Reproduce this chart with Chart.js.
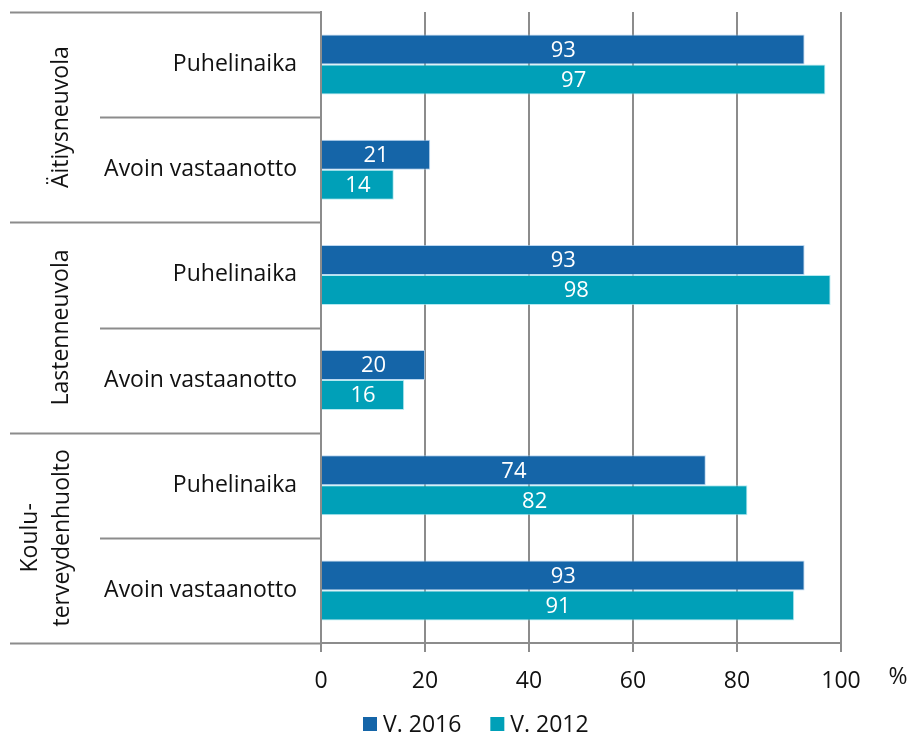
<!DOCTYPE html>
<html>
<head>
<meta charset="utf-8">
<script src="https://cdn.jsdelivr.net/npm/chart.js@4"></script>
<style>
  html, body { margin: 0; padding: 0; background: #fff; }
  #wrap { width: 910px; height: 733px; }
</style>
</head>
<body>
<div id="wrap"><canvas id="c" width="910" height="733"></canvas></div>
<script>
// Rows (service / type) and the three service groups they belong to
const rowLabels = ['Puhelinaika', 'Avoin vastaanotto', 'Puhelinaika', 'Avoin vastaanotto', 'Puhelinaika', 'Avoin vastaanotto'];
const groupLabels = [['Äitiysneuvola'], ['Lastenneuvola'], ['Koulu-', 'terveydenhuolto']];
const rowsPerGroup = 2;

// Share of units (%) offering each form of contact
const values2016 = [93, 21, 93, 20, 74, 93];
const values2012 = [97, 14, 98, 16, 82, 91];
const seriesNames = ['V. 2016', 'V. 2012'];

const xTicks = [0, 20, 40, 60, 80, 100];
const unitLabel = '%';

const FONT = '"Open Sans", sans-serif';
const GRID = '#8c8c8c';
const BLUE = '#1565a8';
const TEAL = '#00a0b8';

// Left-hand label table, value labels, unit and legend
const decorations = {
  id: 'decorations',
  afterDraw(chart) {
    const ctx = chart.ctx;
    const y = chart.scales.y;
    const area = chart.chartArea;
    const n = rowLabels.length;
    const step = (y.getPixelForValue(1) - y.getPixelForValue(0));
    const edge = i => y.getPixelForValue(i) - step / 2;

    ctx.save();
    // table lines
    ctx.strokeStyle = GRID;
    ctx.lineWidth = 2;
    for (let i = 0; i <= n; i++) {
      const yy = Math.round(edge(i)) + 0.5;
      const startX = (i % rowsPerGroup === 0) ? 10 : 100;
      ctx.beginPath();
      ctx.moveTo(startX, yy);
      ctx.lineTo(area.left, yy);
      ctx.stroke();
    }

    // row labels
    ctx.fillStyle = '#111';
    ctx.font = '23px ' + FONT;
    ctx.textAlign = 'right';
    ctx.textBaseline = 'middle';
    rowLabels.forEach((t, i) => ctx.fillText(t, 297, y.getPixelForValue(i)));

    // rotated group labels
    groupLabels.forEach((lines, g) => {
      const cy = (edge(g * rowsPerGroup) + edge((g + 1) * rowsPerGroup)) / 2;
      const xs = lines.length === 1 ? [61] : [30, 62];
      lines.forEach((t, k) => {
        ctx.save();
        ctx.translate(xs[k], cy);
        ctx.rotate(-Math.PI / 2);
        ctx.textAlign = 'center';
        ctx.textBaseline = 'middle';
        ctx.fillText(t, 0, 0);
        ctx.restore();
      });
    });

    // value labels inside the bars
    ctx.fillStyle = '#fff';
    ctx.font = '22px ' + FONT;
    ctx.textAlign = 'center';
    ctx.textBaseline = 'middle';
    chart.data.datasets.forEach((ds, di) => {
      chart.getDatasetMeta(di).data.forEach((bar, i) => {
        ctx.fillText(String(ds.data[i]), (bar.x + bar.base) / 2, bar.y + 1);
      });
    });

    // unit label after the last tick
    ctx.fillStyle = '#111';
    ctx.font = '23px ' + FONT;
    ctx.textAlign = 'center';
    ctx.textBaseline = 'alphabetic';
    ctx.fillText(unitLabel, 898, 684);

    // legend
    ctx.font = '23px ' + FONT;
    ctx.textAlign = 'left';
    let lx = 363;
    chart.data.datasets.forEach(ds => {
      ctx.fillStyle = ds.backgroundColor;
      ctx.fillRect(lx, 717, 14, 14);
      ctx.fillStyle = '#111';
      ctx.fillText(ds.label, lx + 20, 732);
      lx += 20 + ctx.measureText(ds.label).width + 29;
    });
    ctx.restore();
  }
};

new Chart(document.getElementById('c'), {
  type: 'bar',
  data: {
    labels: rowLabels.map((t, i) => i),
    datasets: [
      { label: seriesNames[0], data: values2016, backgroundColor: BLUE, borderColor: 'rgba(160,200,235,0.7)', borderWidth: 1 },
      { label: seriesNames[1], data: values2012, backgroundColor: TEAL, borderColor: 'rgba(150,225,235,0.7)', borderWidth: 1 }
    ]
  },
  options: {
    indexAxis: 'y',
    responsive: false,
    animation: false,
    events: [],
    layout: { padding: { top: 12, right: 69, left: 0, bottom: 0 } },
    datasets: { bar: { categoryPercentage: 0.57, barPercentage: 1.0 } },
    plugins: { legend: { display: false }, tooltip: { enabled: false } },
    scales: {
      x: {
        min: 0, max: 100,
        afterBuildTicks(scale) { scale.ticks = xTicks.map(v => ({ value: v })); },
        afterFit(scale) { scale.height = 90; },
        ticks: { font: { family: FONT, size: 23 }, color: '#111', padding: 16 },
        grid: { color: GRID, lineWidth: 2, tickLength: 9, drawTicks: true },
        border: { color: GRID, width: 2 }
      },
      y: {
        afterFit(scale) { scale.width = 321; },
        ticks: { display: false },
        grid: { display: false },
        border: { display: true, color: GRID, width: 2 }
      }
    }
  },
  plugins: [decorations]
});
</script>
</body>
</html>
